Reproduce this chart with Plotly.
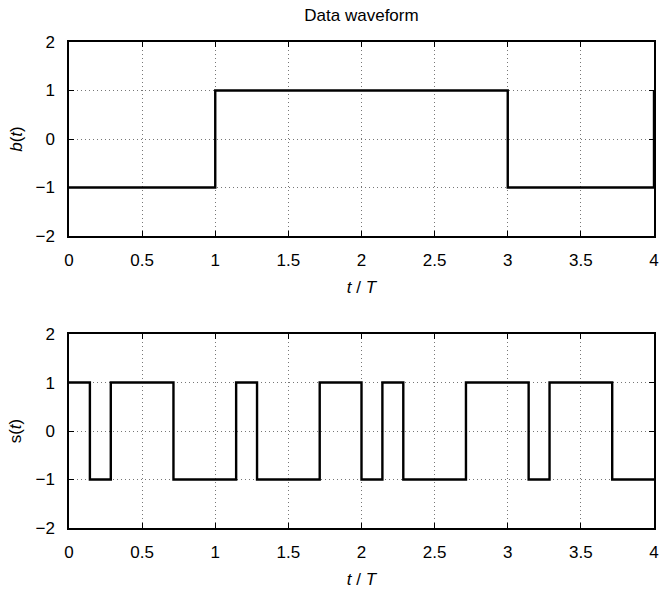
import plotly.graph_objects as go
from plotly.subplots import make_subplots

# Data bit waveform b(t): breakpoints (t/T) and levels
b_times = [0, 1, 1, 3, 3, 4, 4]
b_values = [-1, -1, 1, 1, -1, -1, 1]

# Spread signal s(t): chip edges (t/T) and chip levels
s_edges = [0, 1/7, 2/7, 5/7, 8/7, 9/7, 12/7, 14/7, 15/7, 16/7, 19/7, 22/7, 23/7, 26/7, 4]
s_levels = [1, -1, 1, -1, 1, -1, 1, -1, 1, -1, 1, -1, 1, -1]

x_ticks = [0, 0.5, 1, 1.5, 2, 2.5, 3, 3.5, 4]
x_ticklabels = ["0", "0.5", "1", "1.5", "2", "2.5", "3", "3.5", "4"]
y_ticks = [-2, -1, 0, 1, 2]
y_ticklabels = ["−2", "−1", "0", "1", "2"]

# build step path for s(t)
s_x, s_y = [], []
for i, lv in enumerate(s_levels):
    s_x += [s_edges[i], s_edges[i + 1]]
    s_y += [lv, lv]

fig = make_subplots(rows=2, cols=1, vertical_spacing=0.2)
fig.add_trace(go.Scatter(x=b_times, y=b_values, mode="lines", cliponaxis=False,
                         line=dict(color="black", width=2.4), showlegend=False), row=1, col=1)
fig.add_trace(go.Scatter(x=s_x, y=s_y, mode="lines",
                         line=dict(color="black", width=2.4), showlegend=False), row=2, col=1)

font = dict(family="Liberation Sans, Arial, sans-serif", size=17, color="black")
axcommon = dict(showline=True, linecolor="black", linewidth=1.5, mirror="ticks",
                ticks="inside", ticklen=5, tickcolor="black", tickwidth=1,
                showgrid=True, gridcolor="#777777", griddash="1px,3px", gridwidth=1,
                zeroline=False, tickfont=font, automargin=False)

for r in (1, 2):
    fig.update_xaxes(range=[0, 4], tickvals=x_ticks, ticktext=x_ticklabels,
                     ticklabelstandoff=8,
                     title=dict(text="<i>t</i> / <i>T</i>", font=font, standoff=12),
                     row=r, col=1, **axcommon)
    fig.update_yaxes(range=[-2, 2], tickvals=y_ticks, ticktext=y_ticklabels,
                     ticklabelstandoff=9,
                     row=r, col=1, **axcommon)

fig.update_yaxes(title=dict(text="<i>b</i>(<i>t</i>)", font=font, standoff=9), row=1, col=1)
fig.update_yaxes(title=dict(text="s(<i>t</i>)", font=font, standoff=9), row=2, col=1)

fig.update_layout(
    width=665, height=596,
    margin=dict(l=69, r=11, t=42, b=68, autoexpand=False),
    plot_bgcolor="white", paper_bgcolor="white",
    font=font,
    title=dict(text="Data waveform", x=(69 + 654) / 2 / 665, xanchor="center",
               y=1 - 15 / 596, yanchor="middle", font=font),
)
fig.layout.yaxis.domain = [0.6008, 1.0]
fig.layout.yaxis2.domain = [0.0, 0.399]

fig.write_html("out.html", config={"displayModeBar": False},
               post_script="document.body.style.margin='0px';")
